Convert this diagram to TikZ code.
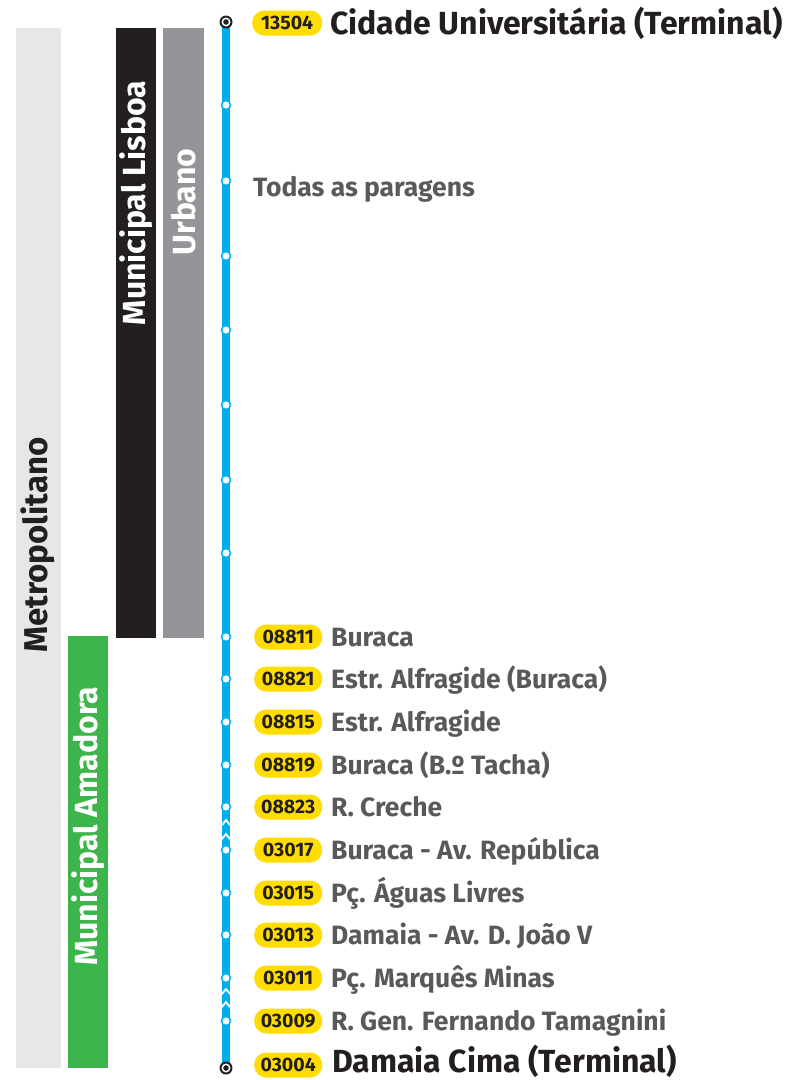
\documentclass[tikz,border=0pt]{standalone}
\usepackage{fontspec}
\setmainfont{Fira Sans}
\definecolor{lgray}{HTML}{E6E7E8}
\definecolor{dgray}{HTML}{939598}
\definecolor{lblack}{HTML}{231F20}
\definecolor{lgreen}{HTML}{3CB54A}
\definecolor{lblue}{HTML}{00AEEF}
\definecolor{lyellow}{HTML}{FFDD00}
\definecolor{tgray}{HTML}{58595B}
\begin{document}
\begin{tikzpicture}[x=1pt,y=-1pt,
  bartext/.style={rotate=90,font=\bfseries\fontsize{32}{32}\selectfont,inner sep=0pt},
  pill/.style={fill=lyellow,rounded corners=12pt,minimum width=68pt,minimum height=25pt,inner sep=0pt,anchor=west,font=\bfseries\fontsize{19.5}{19.5}\selectfont,text=lblack},
  stopname/.style={anchor=base west,inner sep=0pt,font=\bfseries\fontsize{26.5}{26.5}\selectfont,text=tgray},
  termname/.style={anchor=base west,inner sep=0pt,font=\bfseries\fontsize{32}{32}\selectfont,text=lblack},
  stopdot/.style={circle,fill=white,draw=lblue,line width=1.5pt,minimum size=9pt,inner sep=0pt},
  chev/.style={draw=white,line width=1.8pt},
]
\useasboundingbox (0,0) rectangle (787,1080);
% bars
\fill[lgray] (16,28) rectangle (61,1068);
\fill[lblack] (116,28) rectangle (156,638);
\fill[dgray] (163,28) rectangle (204,638);
\fill[lgreen] (68,636) rectangle (108,1068);
\node[bartext,text=lblack,font=\bfseries\fontsize{33}{33}\selectfont] (tmetro) at (38,545) {Metropolitano};
\node[bartext,text=white] (tlisboa) at (136,203) {Municipal Lisboa};
\node[bartext,text=white] (turbano) at (184,202) {Urbano};
\node[bartext,text=white] (tamadora) at (88,826) {Municipal Amadora};
% line
\coordinate (top) at (226,22);
\coordinate (bot) at (226,1068);
\draw[lblue,line width=8pt] (top) -- (bot);
% chevrons
\foreach \cy in {822,836,991,1004}{
  \draw[chev] (222,\cy+3) -- (226,\cy-2) -- (230,\cy+3);
}
% intermediate dots
\foreach \i/\sy in {a/105,b/181,c/256,d/330,e/405,f/480,g/553,
  s1/637,s2/679,s3/722,s4/765,s5/807,s6/850,s7/893,s8/935,s9/978,s10/1021}{
  \node[stopdot] (d\i) at (226,\sy) {};
}
% terminals
\foreach \n/\ty in {ttop/22,tbot/1068}{
  \fill[lblack] (226,\ty) circle (6.5pt);
  \fill[white] (226,\ty) circle (4.5pt);
  \fill[lblack] (226,\ty) circle (2.8pt);
}
% top terminal
\node[pill,minimum width=70pt] (p0) at (252,23) {13504};
\node[termname] (n0) at (330,34) {Cidade Universitária (Terminal)};
\node[stopname] (todas) at (253,196) {Todas as paragens};
% stops
\foreach \k/\sy/\code/\name in {
  1/637/08811/Buraca,
  2/679/08821/Estr. Alfragide (Buraca),
  3/722/08815/Estr. Alfragide,
  4/765/08819/Buraca (B.º Tacha),
  5/807/08823/R. Creche,
  6/850/03017/Buraca - Av. República,
  7/893/03015/Pç. Águas Livres,
  8/935/03013/Damaia - Av. D. João V,
  9/978/03011/Pç. Marquês Minas,
  10/1021/03009/R. Gen. Fernando Tamagnini}{
  \node[pill] (p\k) at (254,\sy) {\code};
  \node[stopname] (n\k) at (331,\sy+9) {\name};
}
% bottom terminal
\node[pill] (p11) at (254,1065) {03004};
\node[termname] (n11) at (332,1072) {Damaia Cima (Terminal)};
\end{tikzpicture}
\end{document}
